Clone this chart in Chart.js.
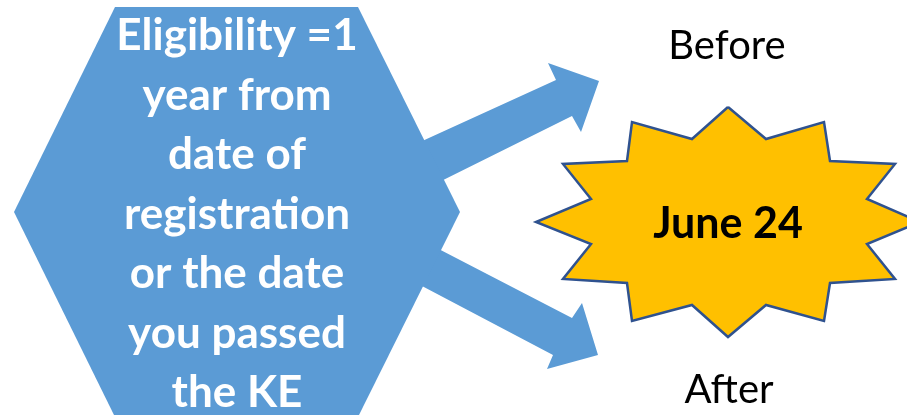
<!DOCTYPE html>
<html>
<head>
<meta charset="utf-8">
<script src="https://cdn.jsdelivr.net/npm/chart.js@4"></script>
<style>
  html, body { margin: 0; padding: 0; background: #fff; }
  #wrap { width: 907px; height: 415px; position: relative; }
</style>
</head>
<body>
<div id="wrap"><canvas id="diagram"></canvas></div>
<script>
// ==========================================
// 1. SHAPE DATA (in picture units, 907 x 415)
// ==========================================
const hexX = [14, 115, 358, 460, 358, 115, 14];
const hexY = [212, 7, 7, 212, 417, 417, 212];

const arrowUpX = [385, 556, 548, 599, 581, 572, 403, 385];
const arrowUpY = [158, 80, 63, 81, 132, 116, 200, 158];

const arrowDownX = [402, 572, 582, 598, 547, 553, 384, 402];
const arrowDownY = [230, 318, 303, 355, 369, 355, 266, 230];

// 12 point burst, outer and inner corners taken in turn
const starX = [728, 766, 824, 830, 895, 867, 920, 867, 895, 830, 824, 766, 728,
               692, 632, 627, 563, 591, 536, 591, 563, 627, 632, 692, 728];
const starY = [107, 139, 122, 161, 164, 199, 222, 244, 279, 283, 321, 305, 337,
               305, 321, 283, 279, 244, 222, 199, 164, 161, 122, 139, 107];

// texts
const hexLines = ['Eligibility =1', 'year from', 'date of', 'registration',
                  'or the date', 'you passed', 'the KE'];
const burstLabel = 'June 24';
const beforeLabel = 'Before';
const afterLabel = 'After';

const BLUE = '#5B9BD5';
const GOLD = '#FFC000';
const GOLD_EDGE = '#2F528F';

const toPoints = (xs, ys) => xs.map((x, i) => ({ x: x, y: ys[i] }));

function shape(xs, ys, fillColor, edgeColor, edgeWidth) {
  return {
    data: toPoints(xs, ys),
    showLine: true,
    fill: 'shape',
    backgroundColor: fillColor,
    borderColor: edgeColor || fillColor,
    borderWidth: edgeWidth || 0,
    borderJoinStyle: 'miter',
    tension: 0,
    pointRadius: 0,
    pointHoverRadius: 0
  };
}

// ==========================================
// 2. TEXT PLUGIN
// ==========================================
const textPlugin = {
  id: 'diagramText',
  afterDatasetsDraw(chart) {
    const ctx = chart.ctx;
    const sx = chart.scales.x, sy = chart.scales.y;
    const put = (txt, x, y, font, color) => {
      ctx.font = font;
      ctx.fillStyle = color;
      ctx.fillText(txt, sx.getPixelForValue(x), sy.getPixelForValue(y));
    };
    ctx.save();
    ctx.textAlign = 'center';
    ctx.textBaseline = 'alphabetic';
    hexLines.forEach((line, i) => {
      put(line, 237, 50 + i * 59.5, 'bold 44px Lato', '#ffffff');
    });
    put(burstLabel, 728, 238, 'bold 43px Lato', '#000000');
    put(beforeLabel, 727, 59, '40px Lato', '#000000');
    put(afterLabel, 729, 403, '40px Lato', '#000000');
    ctx.restore();
  }
};

// ==========================================
// 3. CHART
// ==========================================
new Chart(document.getElementById('diagram'), {
  type: 'scatter',
  data: {
    datasets: [
      shape(hexX, hexY, BLUE),                       // drawn last -> on top
      shape(arrowUpX, arrowUpY, BLUE),
      shape(arrowDownX, arrowDownY, BLUE),
      shape(starX, starY, GOLD, GOLD_EDGE, 2.5)
    ]
  },
  options: {
    responsive: true,
    maintainAspectRatio: false,
    animation: false,
    events: [],
    layout: { padding: 0 },
    plugins: {
      legend: { display: false },
      tooltip: { enabled: false }
    },
    scales: {
      x: { type: 'linear', min: 0, max: 907, display: false },
      y: { type: 'linear', min: 0, max: 415, reverse: true, display: false }
    }
  },
  plugins: [textPlugin]
});
</script>
</body>
</html>
